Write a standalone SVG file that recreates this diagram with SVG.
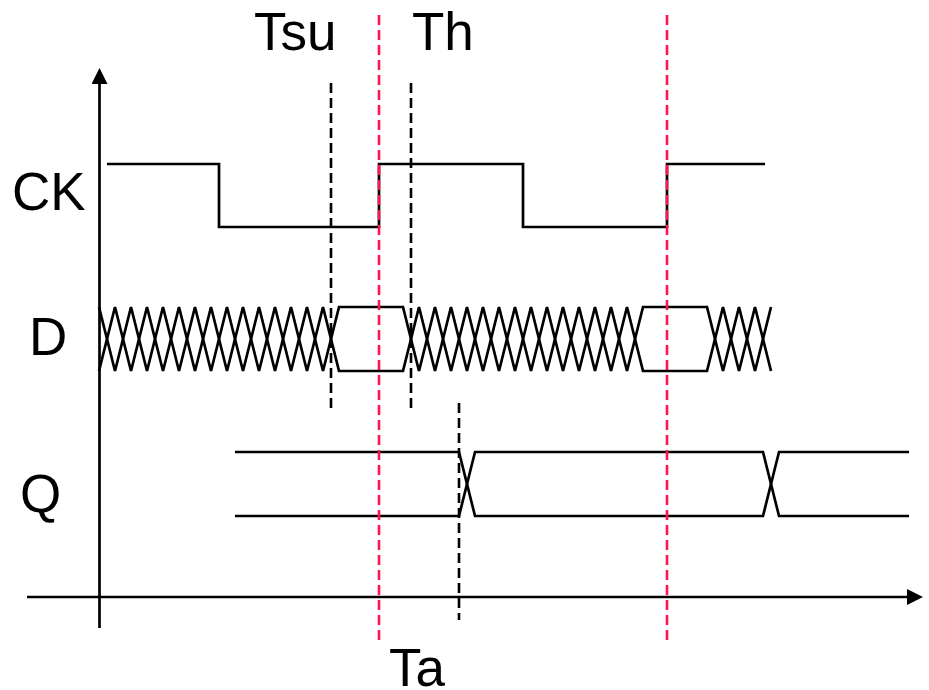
<svg xmlns="http://www.w3.org/2000/svg" width="929" height="690" viewBox="0 0 929 690">
<style>
.sig{fill:none;stroke:#000;stroke-width:2.7;stroke-linejoin:miter}
.ax{fill:none;stroke:#000;stroke-width:2.7}
.blk{fill:none;stroke:#000;stroke-width:2.6;stroke-dasharray:10 5}
.red{fill:none;stroke:#FF1450;stroke-width:2.6;stroke-dasharray:10 5}
.lbl{font-family:"Liberation Sans",Arial,sans-serif;font-size:53px;fill:#000}
</style>
<defs>
<marker id="arr" viewBox="0 0 16 16" refX="0" refY="8" markerWidth="16" markerHeight="16" markerUnits="userSpaceOnUse" orient="auto">
<path d="M0,0 L16,8 L0,16 Z" fill="#000"/>
</marker>
</defs>
<rect width="929" height="690" fill="#fff"/>
<g id="axes">
<line class="ax" x1="99.5" y1="628" x2="99.5" y2="84" marker-end="url(#arr)"/>
<line class="ax" x1="27" y1="597" x2="907" y2="597" marker-end="url(#arr)"/>
</g>
<g id="labels">
<text id="lbl-ck" class="lbl" x="12" y="210">CK</text>
<text id="lbl-d" class="lbl" x="29" y="355">D</text>
<text id="lbl-q" class="lbl" x="20" y="512">Q</text>
<text id="lbl-tsu" class="lbl" x="254" y="50">Tsu</text>
<text id="lbl-th" class="lbl" x="412" y="50">Th</text>
<text id="lbl-ta" class="lbl" x="389" y="686">Ta</text>
</g>
<g id="signal-ck">
<path class="sig" d="M107,164 H219 V227 H379 V164 H523 V227 H667 V164 H765"/>
</g>
<g id="signal-d">
<polyline class="sig" points="99,307 115,371 131,307 147,371 163,307 179,371 195,307 211,371 227,307 243,371 259,307 275,371 291,307 307,371 323,307 339,371 403,371 419,307 435,371 451,307 467,371 483,307 499,371 515,307 531,371 547,307 563,371 579,307 595,371 611,307 627,371 643,307 707,307 723,371 739,307 755,371 771,307"/>
<polyline class="sig" points="99,371 115,307 131,371 147,307 163,371 179,307 195,371 211,307 227,371 243,307 259,371 275,307 291,371 307,307 323,371 339,307 403,307 419,371 435,307 451,371 467,307 483,371 499,307 515,371 531,307 547,371 563,307 579,371 595,307 611,371 627,307 643,371 707,371 723,307 739,371 755,307 771,371"/>
</g>
<g id="signal-q">
<path class="sig" d="M235,452 H459 L475,516 H763 L779,452 H909"/>
<path class="sig" d="M235,516 H459 L475,452 H763 L779,516 H909"/>
</g>
<g id="connectors">
<line class="blk" x1="331" y1="83" x2="331" y2="412"/>
<line class="blk" x1="411" y1="83" x2="411" y2="412"/>
<line class="blk" x1="459" y1="403" x2="459" y2="620"/>
<line class="red" x1="379" y1="15" x2="379" y2="643"/>
<line class="red" x1="667" y1="15" x2="667" y2="643"/>
</g>
</svg>
